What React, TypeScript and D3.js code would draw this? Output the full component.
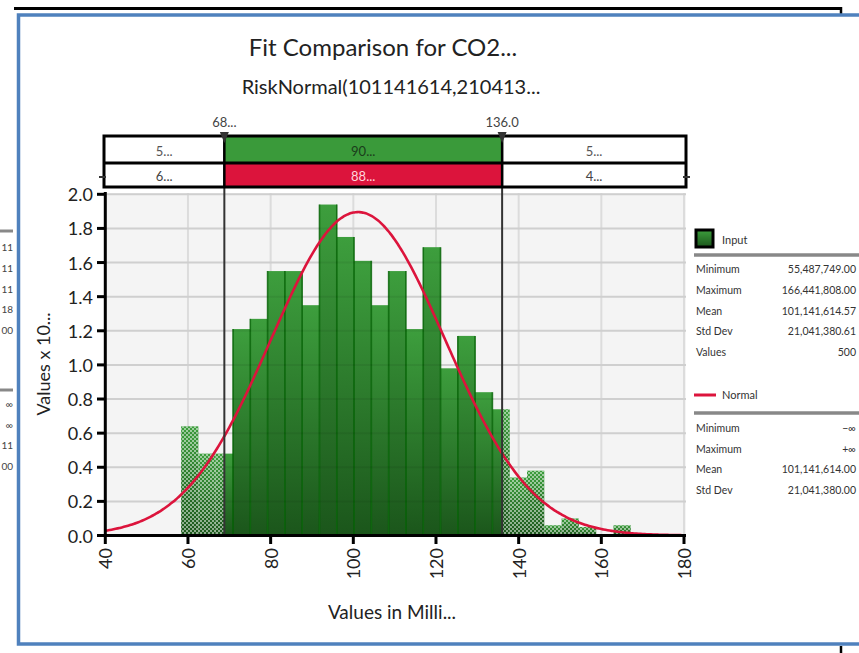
import React from 'react';
import * as d3 from 'd3';

// ---- data ----
const binLower = [58.34, 62.52, 66.71, 70.89, 75.08, 79.26, 83.44, 87.63, 91.81, 96.0, 100.18, 104.36, 108.55, 112.73, 116.92, 121.1, 125.28, 129.47, 133.65, 137.84, 142.02, 146.2, 150.39, 154.57, 158.76, 162.94];
const binUpperLast = 167.12;
const binHeights = [0.64, 0.48, 0.48, 1.21, 1.27, 1.55, 1.55, 1.35, 1.94, 1.75, 1.61, 1.35, 1.55, 1.21, 1.69, 0.98, 1.17, 0.84, 0.74, 0.34, 0.38, 0.06, 0.1, 0.05, 0, 0.06];
const xTicks = [40, 60, 80, 100, 120, 140, 160, 180];
const yTicks = [0, 0.2, 0.4, 0.6, 0.8, 1.0, 1.2, 1.4, 1.6, 1.8, 2.0];
const markers = [68.8, 136.0];
const markerLabels = ['68...', '136.0'];
const inputPercents = ['5...', '90...', '5...'];
const normalPercents = ['6...', '88...', '4...'];
const normalMean = 101.141614;
const normalSd = 21.04138;
const inputStatLabels = ['Minimum', 'Maximum', 'Mean', 'Std Dev', 'Values'];
const inputStatValues = ['55,487,749.00', '166,441,808.00', '101,141,614.57', '21,041,380.61', '500'];
const normalStatLabels = ['Minimum', 'Maximum', 'Mean', 'Std Dev'];
const normalStatValues = ['\u2212\u221E', '+\u221E', '101,141,614.00', '21,041,380.00'];
const leftRemnantA = ['11', '11', '11', '18', '00'];
const leftRemnantB = ['\u221E', '\u221E', '11', '00'];

const FONT = "Lato, 'Open Sans', sans-serif";

export default function App() {
  const W = 859, H = 653;
  const x = d3.scaleLinear().domain([40, 180]).range([105.3, 684]);
  const y = d3.scaleLinear().domain([0, 2]).range([535.5, 194.3]);
  const m1 = x(markers[0]);
  const m2 = x(markers[1]);

  const bins = binLower.map((lo, i) => ({
    lo,
    hi: i < binLower.length - 1 ? binLower[i + 1] : binUpperLast,
    h: binHeights[i],
  }));

  const pdf = (v: number) =>
    (100 / (normalSd * Math.sqrt(2 * Math.PI))) * Math.exp(-0.5 * ((v - normalMean) / normalSd) ** 2);
  const curvePts = d3.range(40, 180.01, 0.5).map((v) => [v, pdf(v)] as [number, number]);
  const line = d3.line<[number, number]>().x((d) => x(d[0])).y((d) => y(d[1])).curve(d3.curveBasis);

  const boxL = 104, boxR = 686, boxT = 136, boxMid = 163, boxB = 187;
  const legX = 694, legR = 858, valX = 856;

  return (
    <svg width={W} height={H} style={{ position: 'absolute', left: 0, top: 0, background: '#fff' }} fontFamily={FONT}>
      <defs>
        <linearGradient id="barGrad" x1="0" y1="0" x2="0" y2="1">
          <stop offset="0" stopColor="#3d9e3d" />
          <stop offset="1" stopColor="#1b561b" />
        </linearGradient>
        <pattern id="checker" width="4" height="4" patternUnits="userSpaceOnUse">
          <rect x="0" y="0" width="2" height="2" fill="#ffffff" opacity="0.5" />
          <rect x="2" y="2" width="2" height="2" fill="#ffffff" opacity="0.5" />
        </pattern>
        <clipPath id="plotClip">
          <rect x={105} y={190} width={582} height={346} />
        </clipPath>
      </defs>

      {/* outer frame */}
      <line x1={14} x2={842} y1={8.5} y2={8.5} stroke="#000" strokeWidth={3} />
      <line x1={841} x2={841} y1={7} y2={14} stroke="#000" strokeWidth={2.5} />
      <rect x={18.5} y={15} width={900} height={629} fill="none" stroke="#4f81bd" strokeWidth={3.5} />
      <line x1={841} x2={841} y1={646} y2={653} stroke="#000" strokeWidth={2.5} />

      {/* left remnant of neighbouring legend */}
      <line x1={0} x2={13} y1={231} y2={231} stroke="#888" strokeWidth={3} />
      {leftRemnantA.map((t, i) => (
        <text key={'ra' + i} x={13} y={247 + i * 20.8} textAnchor="end" dominantBaseline="central" fontSize={10} fill="#444">{t}</text>
      ))}
      <line x1={0} x2={13} y1={390} y2={390} stroke="#888" strokeWidth={3} />
      {leftRemnantB.map((t, i) => (
        <text key={'rb' + i} x={13} y={404 + i * 20.5} textAnchor="end" dominantBaseline="central" fontSize={10} fill="#444">{t}</text>
      ))}

      {/* titles */}
      <text x={383} y={56} textAnchor="middle" fontSize={24} fill="#222">Fit Comparison for CO2...</text>
      <text x={391} y={94} textAnchor="middle" fontSize={20} fill="#222">RiskNormal(101141614,210413...</text>

      {/* plot background */}
      <rect x={105} y={193} width={581} height={343} fill="#f4f4f4" />

      {/* background grid */}
      {yTicks.slice(1).map((t) => (
        <line key={'gy' + t} x1={105} x2={686} y1={y(t)} y2={y(t)} stroke="#dcdcdc" strokeWidth={2} />
      ))}
      {xTicks.slice(1).map((t) => (
        <line key={'gx' + t} x1={x(t)} x2={x(t)} y1={193} y2={535} stroke="#dcdcdc" strokeWidth={2} />
      ))}

      {/* histogram bars */}
      <g clipPath="url(#plotClip)">
        {bins.map((b, i) =>
          b.h > 0 ? (
            <rect key={'b' + i} x={x(b.lo)} y={y(b.h)} width={x(b.hi) - x(b.lo)} height={y(0) - y(b.h)} fill="url(#barGrad)" />
          ) : null
        )}
        {bins.map((b, i) => {
          if (b.h <= 0) return null;
          const x0 = x(b.lo), x1 = x(b.hi);
          const parts: [number, number][] = [];
          if (x0 < m1) parts.push([x0, Math.min(x1, m1)]);
          if (x1 > m2) parts.push([Math.max(x0, m2), x1]);
          return parts.map((p, j) => (
            <rect key={'h' + i + '_' + j} x={p[0]} y={y(b.h)} width={p[1] - p[0]} height={y(0) - y(b.h)} fill="url(#checker)" />
          ));
        })}
        {bins.map((b, i) => {
          const x0 = x(b.lo);
          if (i === 0 || x0 <= m1 + 2 || x0 >= m2 - 1) return null;
          const top = Math.max(b.h, binHeights[i - 1]);
          return <line key={'d' + i} x1={x0} x2={x0} y1={y(top)} y2={y(0)} stroke="#006000" strokeWidth={1.6} opacity={0.8} />;
        })}
      </g>

      {/* faint grid over bars */}
      {yTicks.slice(1).map((t) => (
        <line key={'go' + t} x1={105} x2={686} y1={y(t)} y2={y(t)} stroke="#000" strokeOpacity={0.06} strokeWidth={2} />
      ))}

      {/* normal curve */}
      <path d={line(curvePts) || ''} fill="none" stroke="#dc143c" strokeWidth={2.6} />

      {/* marker lines */}
      {[m1, m2].map((mx, i) => (
        <line key={'m' + i} x1={mx} x2={mx} y1={boxT} y2={535} stroke="#333" strokeWidth={2} />
      ))}

      {/* axes */}
      <line x1={105.3} x2={105.3} y1={192} y2={537} stroke="#000" strokeWidth={3} />
      <line x1={104} x2={686} y1={535.5} y2={535.5} stroke="#000" strokeWidth={3} />
      {yTicks.map((t) => (
        <g key={'yt' + t}>
          <line x1={97} x2={105} y1={y(t)} y2={y(t)} stroke="#000" strokeWidth={3} />
          <text x={93} y={y(t)} textAnchor="end" dominantBaseline="central" fontSize={18} fill="#222">{t.toFixed(1)}</text>
        </g>
      ))}
      {xTicks.map((t) => (
        <g key={'xt' + t}>
          <line x1={x(t)} x2={x(t)} y1={535} y2={544} stroke="#000" strokeWidth={3} />
          <text transform={`translate(${x(t)},548) rotate(-90)`} textAnchor="end" dominantBaseline="central" fontSize={18} fill="#222">{t}</text>
        </g>
      ))}
      <text transform={`translate(43,364) rotate(-90)`} textAnchor="middle" dominantBaseline="central" fontSize={18} fill="#222">Values x 10...</text>
      <text x={392} y={619} textAnchor="middle" fontSize={19} fill="#222">Values in Milli...</text>

      {/* percentile bars */}
      <rect x={m1} y={boxT} width={m2 - m1} height={boxMid - boxT} fill="#3a9a3a" />
      <rect x={m1} y={boxMid} width={m2 - m1} height={boxB - boxMid} fill="#dc143c" />
      <rect x={boxL} y={boxT} width={boxR - boxL} height={boxB - boxT} fill="none" stroke="#000" strokeWidth={3} />
      <line x1={boxL} x2={boxR} y1={boxMid} y2={boxMid} stroke="#000" strokeWidth={3} />
      {[m1, m2].map((mx, i) => (
        <g key={'mk' + i}>
          <line x1={mx} x2={mx} y1={boxT} y2={boxB} stroke="#000" strokeWidth={2.5} />
          <path d={`M${mx - 4.5},${boxT - 4} L${mx + 4.5},${boxT - 4} L${mx},${boxT + 7} Z`} fill="#333" />
          <text x={mx} y={127} textAnchor="middle" fontSize={13} fill="#444">{markerLabels[i]}</text>
        </g>
      ))}
      {inputPercents.map((t, i) => {
        const cx = i === 0 ? (boxL + m1) / 2 : i === 1 ? (m1 + m2) / 2 : (m2 + boxR) / 2;
        return <text key={'ip' + i} x={cx} y={(boxT + boxMid) / 2 + 1} textAnchor="middle" dominantBaseline="central" fontSize={13} fill={i === 1 ? '#1a3d1a' : '#555'}>{t}</text>;
      })}
      {normalPercents.map((t, i) => {
        const cx = i === 0 ? (boxL + m1) / 2 : i === 1 ? (m1 + m2) / 2 : (m2 + boxR) / 2;
        return <text key={'np' + i} x={cx} y={(boxMid + boxB) / 2 + 1} textAnchor="middle" dominantBaseline="central" fontSize={13} fill={i === 1 ? '#ffd6de' : '#444'}>{t}</text>;
      })}
      <line x1={99} x2={106} y1={177} y2={177} stroke="#333" strokeWidth={2} />
      <line x1={683} x2={690} y1={177} y2={177} stroke="#333" strokeWidth={2} />

      {/* legend: input */}
      <rect x={696} y={230} width={17} height={17} fill="url(#barGrad)" stroke="#000" strokeWidth={3} />
      <text x={722} y={239} dominantBaseline="central" fontSize={11} fill="#333">Input</text>
      <line x1={legX} x2={legR + 2} y1={255} y2={255} stroke="#888" strokeWidth={3.5} />
      {inputStatLabels.map((l, i) => (
        <g key={'is' + i}>
          <text x={696} y={269 + i * 20.8} dominantBaseline="central" fontSize={10.5} fill="#333">{l}</text>
          <text x={valX} y={269 + i * 20.8} textAnchor="end" dominantBaseline="central" fontSize={10.5} fill="#333">{inputStatValues[i]}</text>
        </g>
      ))}

      {/* legend: normal */}
      <line x1={694} x2={716} y1={395} y2={395} stroke="#dc143c" strokeWidth={3} />
      <text x={722} y={394} dominantBaseline="central" fontSize={11} fill="#333">Normal</text>
      <line x1={legX} x2={legR + 2} y1={413} y2={413} stroke="#888" strokeWidth={3.5} />
      {normalStatLabels.map((l, i) => (
        <g key={'ns' + i}>
          <text x={696} y={428 + i * 20.7} dominantBaseline="central" fontSize={10.5} fill="#333">{l}</text>
          <text x={valX} y={428 + i * 20.7} textAnchor="end" dominantBaseline="central" fontSize={10.5} fill="#333">{normalStatValues[i]}</text>
        </g>
      ))}
    </svg>
  );
}
